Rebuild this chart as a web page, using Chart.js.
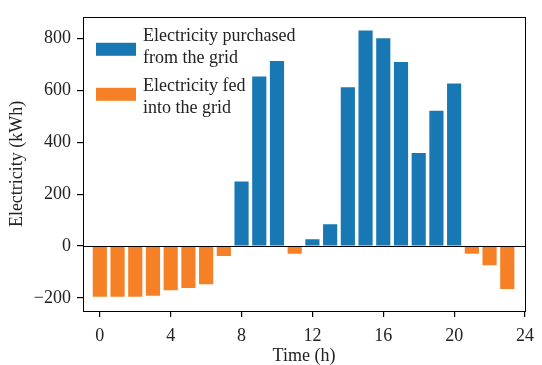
<!DOCTYPE html>
<html>
<head>
<meta charset="utf-8">
<script src="https://cdn.jsdelivr.net/npm/chart.js@4/dist/chart.umd.min.js"></script>
<style>
  html, body { margin: 0; padding: 0; background: #fff; }
  #wrap { width: 542px; height: 365px; }
</style>
</head>
<body>
<div id="wrap"><canvas id="c"></canvas></div>
<script>
// hours of the day
const hours = [0,1,2,3,4,5,6,7,8,9,10,11,12,13,14,15,16,17,18,19,20,21,22,23];
// net exchange with grid (kWh); positive = purchased, negative = fed in
const netExchange = [-195,-195,-195,-191,-170,-161,-147,-38,249,653,713,-30,
                     26,84,612,830,800,709,358,521,626,-30,-74,-165];
const xTicks = [0,4,8,12,16,20,24];
const yTicks = [-200,0,200,400,600,800];
const seriesNames = [['Electricity purchased','from the grid'], ['Electricity fed','into the grid']];

const BLUE = '#1878b4';
const ORANGE = '#f58025';
const FONT = "'Liberation Serif', 'Times New Roman', serif";
const FSIZE = 18;

const purchased = hours.map((h, i) => ({ x: h, y: netExchange[i] > 0 ? netExchange[i] : null }));
const fedIn = hours.map((h, i) => ({ x: h, y: netExchange[i] < 0 ? netExchange[i] : null }));

// frame, zero line and the in-plot legend
const framePlugin = {
  id: 'frame',
  afterDatasetsDraw(chart) {
    const { ctx, chartArea: a, scales } = chart;
    ctx.save();
    ctx.strokeStyle = '#000';
    ctx.lineWidth = 1;
    const y0 = Math.round(scales.y.getPixelForValue(0)) + 0.5;
    ctx.beginPath();
    ctx.moveTo(a.left, y0);
    ctx.lineTo(a.right, y0);
    ctx.stroke();
    ctx.strokeRect(Math.round(a.left) + 0.5, Math.round(a.top) + 0.5,
                   Math.round(a.right - a.left), Math.round(a.bottom - a.top));

    // legend
    const colors = [BLUE, ORANGE];
    const handleTop = [26, 71];
    const textMid = [19, 69];
    ctx.font = FSIZE + 'px ' + FONT;
    ctx.textBaseline = 'middle';
    seriesNames.forEach((lines, k) => {
      ctx.fillStyle = colors[k];
      ctx.fillRect(a.left + 13, a.top + handleTop[k], 40, 13);
      ctx.fillStyle = '#222';
      lines.forEach((t, j) => ctx.fillText(t, a.left + 60, a.top + textMid[k] + j * 22));
    });
    ctx.restore();
  }
};

new Chart(document.getElementById('c'), {
  type: 'bar',
  data: {
    datasets: [
      { label: seriesNames[0].join(' '), data: purchased, backgroundColor: BLUE,
        barPercentage: 0.8, categoryPercentage: 1.0 },
      { label: seriesNames[1].join(' '), data: fedIn, backgroundColor: ORANGE,
        barPercentage: 0.8, categoryPercentage: 1.0 }
    ]
  },
  options: {
    responsive: true,
    maintainAspectRatio: false,
    animation: false,
    layout: { padding: { top: 11, right: 12, left: 0, bottom: 0 } },
    plugins: { legend: { display: false }, tooltip: { enabled: false } },
    scales: {
      x: {
        type: 'linear',
        stacked: true,
        min: -0.95,
        max: 24,
        offset: false,
        afterBuildTicks: s => { s.ticks = xTicks.map(v => ({ value: v })); },
        afterFit: s => { s.height = 54; },
        grid: { offset: false, drawOnChartArea: false, drawTicks: true, tickLength: 6, lineWidth: 1.2, color: '#000', tickColor: '#000' },
        border: { display: false },
        ticks: { color: '#222', font: { family: FONT, size: FSIZE }, padding: 8, maxRotation: 0 },
        title: { display: true, text: 'Time (h)', color: '#222', font: { family: FONT, size: FSIZE, lineHeight: 1 }, padding: { top: -3, bottom: 0 } }
      },
      y: {
        stacked: true,
        min: -250,
        max: 883,
        afterBuildTicks: s => { s.ticks = yTicks.map(v => ({ value: v })); },
        afterFit: s => { s.width = 83; },
        grid: { drawOnChartArea: false, drawTicks: true, tickLength: 6, lineWidth: 1.2, color: '#000', tickColor: '#000' },
        border: { display: false },
        ticks: { color: '#222', font: { family: FONT, size: FSIZE }, padding: 6,
                 callback: v => v < 0 ? '\u2212' + Math.abs(v) : String(v) },
        title: { display: true, text: 'Electricity (kWh)', color: '#222', font: { family: FONT, size: FSIZE }, padding: { top: 6, bottom: 6 } }
      }
    }
  },
  plugins: [framePlugin]
});
</script>
</body>
</html>
